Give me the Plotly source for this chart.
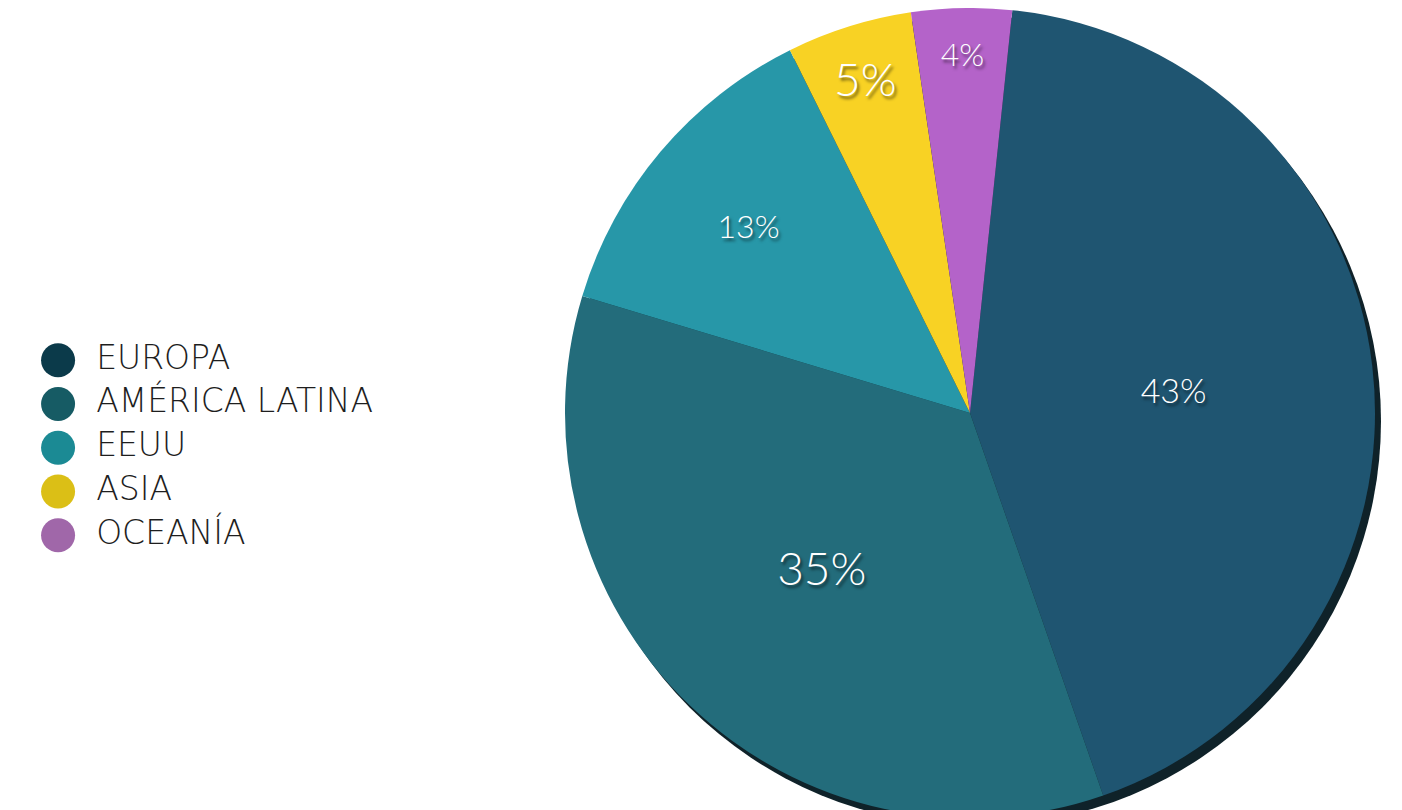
import plotly.graph_objects as go

regiones = ["EUROPA", "AMÉRICA LATINA", "EEUU", "ASIA", "OCEANÍA"]
porcentajes = [43, 35, 13, 5, 4]
colores_sector = ["#1f5571", "#236c7b", "#2797a8", "#f8d224", "#b463c9"]
colores_leyenda = ["#0b3a4a", "#165b64", "#1b8a94", "#dbbf16", "#a067a9"]
tam_texto = [34, 46, 32, 46, 32]

W, H = 1402, 810
# pie geometry (pixels)
cx, cy, r = 962, 405, 405

fig = go.Figure()

fig.add_trace(go.Pie(
    labels=regiones,
    values=porcentajes,
    sort=False,
    direction="clockwise",
    rotation=6,
    marker=dict(colors=colores_sector, line=dict(width=0)),
    texttemplate="%{value}%",
    textposition="inside",
    insidetextorientation="horizontal",
    textfont=dict(family="Lato", size=tam_texto, color="white", weight=300,
                  shadow="2px 3px 3px rgba(0,0,0,0.55)"),
    domain=dict(x=[(cx - r) / W, (cx + r) / W], y=[0, 1]),
    showlegend=False,
    hoverinfo="label+percent",
))

# custom legend on a hidden axis
pos = list(range(len(regiones)))[::-1]
fig.add_trace(go.Scatter(
    x=[0] * len(regiones), y=pos, mode="markers",
    marker=dict(size=34, color=colores_leyenda, line=dict(width=0)),
    showlegend=False, hoverinfo="skip",
))
fig.add_trace(go.Scatter(
    x=[0.76] * len(regiones), y=pos, mode="text",
    text=regiones, textposition="middle right",
    textfont=dict(family="DejaVu Sans", size=33, color="#1e1e1e", weight=200),
    showlegend=False, hoverinfo="skip",
))

# drop shadow under the pie
fig.add_shape(
    type="circle", xref="paper", yref="paper", layer="below",
    x0=(cx - r + 6) / W, x1=(cx + r + 6) / W,
    y0=1 - (cy + r + 8) / H, y1=1 - (cy - r + 8) / H,
    fillcolor="#0f2229", line=dict(width=0),
)

fig.update_layout(
    width=W, height=H,
    margin=dict(l=0, r=0, t=0, b=0),
    paper_bgcolor="white", plot_bgcolor="white",
    xaxis=dict(domain=[0, 0.4], range=[-1, 10.2], visible=False, fixedrange=True),
    yaxis=dict(domain=[0, 1], range=[-6.46, 12.05], visible=False, fixedrange=True),
)

fig.write_html("out.html")
